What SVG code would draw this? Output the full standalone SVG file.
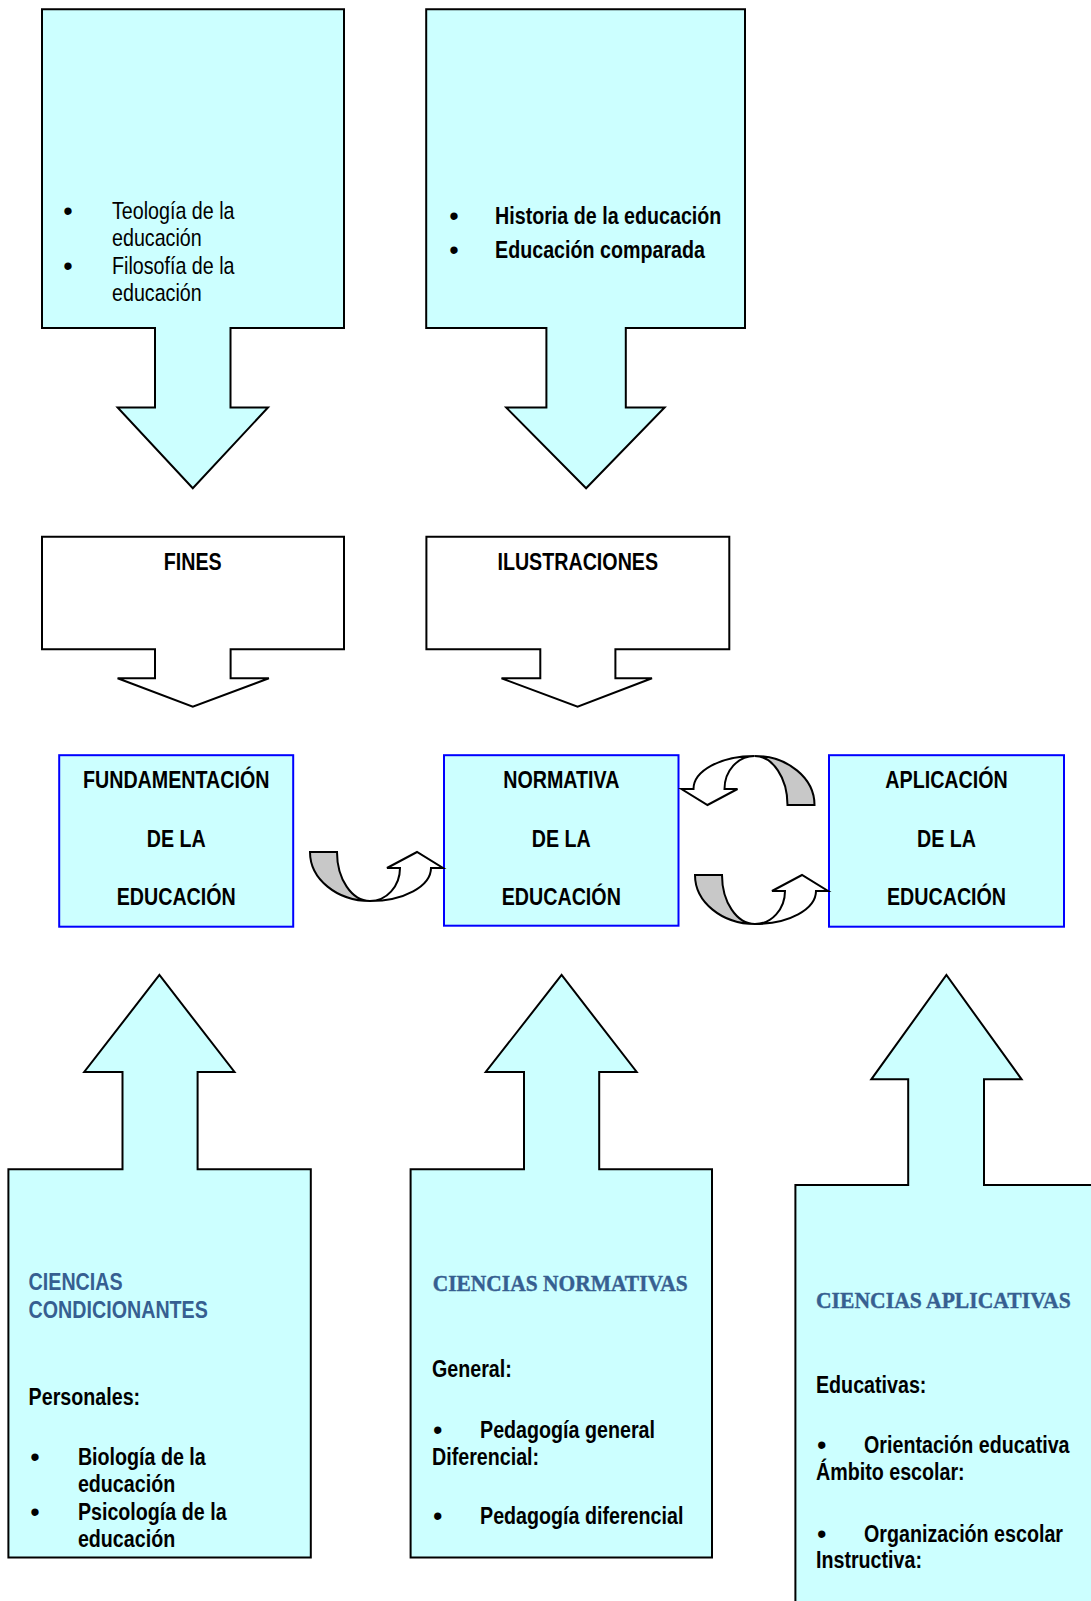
<svg xmlns="http://www.w3.org/2000/svg" width="1091" height="1601" viewBox="0 0 1091 1601">
<style>
.cy{fill:#CCFFFF;stroke:#000;stroke-width:2;stroke-linejoin:miter}
.wh{fill:#FFFFFF;stroke:#000;stroke-width:2}
.bl{fill:#CCFFFF;stroke:#0000FF;stroke-width:2}
.gr{fill:#C8C8C8;stroke:#000;stroke-width:2}
.cw{fill:#FFFFFF;stroke:#000;stroke-width:2;stroke-linejoin:miter}
text{font-family:"Liberation Sans",Arial,sans-serif;font-size:24px;fill:#000}
.b{font-weight:bold}
.c{text-anchor:middle}
.h{fill:#365F91;font-weight:bold}
.s{font-family:"Liberation Serif",serif;fill:#365F91;font-weight:bold;font-size:24px;stroke:#365F91;stroke-width:0.4}
.dot{text-anchor:middle;font-size:27px}
</style>
<rect width="1091" height="1601" fill="#FFFFFF"/>

<g id="teologia">
<path class="cy" d="M42,9.3 H344 V328 H230.5 V407.5 H268 L192.8,488.3 L117.6,407.5 H155 V328 H42 Z"/>
<text class="dot" x="68" y="220">•</text>
<text class="dot" x="68" y="275">•</text>
<g transform="scale(0.82 1)">
<text x="136.6" y="219">Teología de la</text>
<text x="136.6" y="246">educación</text>
<text x="136.6" y="274">Filosofía de la</text>
<text x="136.6" y="301">educación</text>
</g>
</g>

<g id="historia">
<path class="cy" d="M426.2,9.3 H745 V328 H625.8 V407.5 H664.6 L586.1,488.3 L506.2,407.5 H546.4 V328 H426.2 Z"/>
<text class="dot" x="454" y="225">•</text>
<text class="dot" x="454" y="259">•</text>
<g transform="scale(0.82 1)">
<text class="b" x="603.7" y="224">Historia de la educación</text>
<text class="b" x="603.7" y="258">Educación comparada</text>
</g>
</g>

<g id="fines">
<path class="wh" d="M42,536.7 H344 V649.3 H230.6 V678.3 H268.9 L192.8,706.7 L117.6,678.3 H155 V649.3 H42 Z"/>
<text class="b c" transform="scale(0.82 1)" x="235.1" y="570">FINES</text>
</g>

<g id="ilustraciones">
<path class="wh" d="M426.4,536.7 H729.3 V649.3 H615.4 V678.3 H652 L577.6,706.7 L501.5,678.3 H540.3 V649.3 H426.4 Z"/>
<text class="b c" transform="scale(0.82 1)" x="704.6" y="570">ILUSTRACIONES</text>
</g>

<g id="fundamentacion">
<rect class="bl" x="59.2" y="755.2" width="234" height="171.5"/>
<g transform="scale(0.82 1)">
<text class="b c" x="214.9" y="788">FUNDAMENTACIÓN</text>
<text class="b c" x="214.9" y="847">DE LA</text>
<text class="b c" x="214.9" y="905">EDUCACIÓN</text>
</g>
</g>

<g id="normativa">
<rect class="bl" x="444" y="755.2" width="234.5" height="170.5"/>
<g transform="scale(0.82 1)">
<text class="b c" x="684.5" y="788">NORMATIVA</text>
<text class="b c" x="684.5" y="847">DE LA</text>
<text class="b c" x="684.5" y="905">EDUCACIÓN</text>
</g>
</g>

<g id="aplicacion">
<rect class="bl" x="829" y="755.2" width="235" height="171.5"/>
<g transform="scale(0.82 1)">
<text class="b c" x="1154.3" y="788">APLICACIÓN</text>
<text class="b c" x="1154.3" y="847">DE LA</text>
<text class="b c" x="1154.3" y="905">EDUCACIÓN</text>
</g>
</g>

<defs>
<g id="curvedUp">
<path class="gr" d="M310,852 H337 A33 49 0 0 0 370 901 A60 49 0 0 1 310 852 Z"/>
<path class="cw" d="M370,901 A30 33 0 0 0 400 868 L387,868 L417,852 L443,868 L431,868 A61 33 0 0 1 370 901 Z"/>
</g>
</defs>

<g id="connectors">
<use href="#curvedUp"/>
<use href="#curvedUp" transform="matrix(-1 0 0 -1 1124.5 1657)"/>
<use href="#curvedUp" transform="translate(385 23)"/>
</g>

<g id="condicionantes">
<path class="cy" d="M8.4,1169.3 H122.5 V1072 H84.2 L159.4,975 L234.5,1072 H197.6 V1169.3 H310.8 V1557.5 H8.4 Z"/>
<text class="dot" x="35" y="1466">•</text>
<text class="dot" x="35" y="1521">•</text>
<g transform="scale(0.82 1)">
<text class="h" x="34.9" y="1290">CIENCIAS</text>
<text class="h" x="34.9" y="1318.5">CONDICIONANTES</text>
<text class="b" x="34.9" y="1405">Personales:</text>
<text class="b" x="95" y="1465">Biología de la</text>
<text class="b" x="95" y="1492">educación</text>
<text class="b" x="95" y="1520">Psicología de la</text>
<text class="b" x="95" y="1547">educación</text>
</g>
</g>

<g id="normativas">
<path class="cy" d="M410.6,1169.3 H524 V1072 H485.7 L561.6,975 L636.7,1072 H599.2 V1169.3 H712 V1557.5 H410.6 Z"/>
<text class="s" x="432.7" y="1290.7" textLength="255" lengthAdjust="spacingAndGlyphs">CIENCIAS NORMATIVAS</text>
<text class="dot" x="437.7" y="1439">•</text>
<text class="dot" x="437.7" y="1525">•</text>
<g transform="scale(0.82 1)">
<text class="b" x="526.8" y="1377">General:</text>
<text class="b" x="585.4" y="1438">Pedagogía general</text>
<text class="b" x="526.8" y="1465">Diferencial:</text>
<text class="b" x="585.4" y="1524">Pedagogía diferencial</text>
</g>
</g>

<g id="aplicativas">
<path class="cy" d="M795.4,1185 H908.2 V1079.3 H871.3 L946.4,975 L1021.6,1079.3 H984 V1185 H1100 V1610 H795.4 Z"/>
<text class="s" x="816" y="1308" textLength="254.7" lengthAdjust="spacingAndGlyphs">CIENCIAS APLICATIVAS</text>
<text class="dot" x="821.7" y="1454">•</text>
<text class="dot" x="821.7" y="1542.7">•</text>
<g transform="scale(0.82 1)">
<text class="b" x="995.1" y="1393">Educativas:</text>
<text class="b" x="1053.7" y="1453">Orientación educativa</text>
<text class="b" x="995.1" y="1480">Ámbito escolar:</text>
<text class="b" x="1053.7" y="1541.7">Organización escolar</text>
<text class="b" x="995.1" y="1568">Instructiva:</text>
</g>
</g>
</svg>
